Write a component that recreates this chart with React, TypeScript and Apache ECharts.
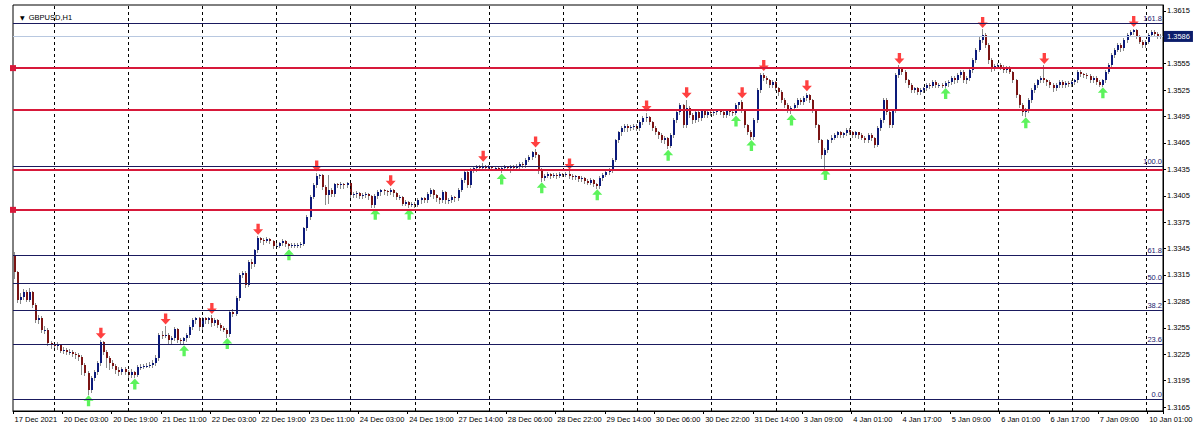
import React, { useEffect, useRef } from "react";
import * as echarts from "echarts";

const symbolName = "GBPUSD,H1";

// trading sessions: [day, first hour, last hour]
const sessions: [string, number, number][] = [
  ["17 Dec", 11, 23], ["20 Dec", 0, 23], ["21 Dec", 0, 23], ["22 Dec", 0, 23], ["23 Dec", 0, 23],
  ["24 Dec", 0, 20], ["27 Dec", 0, 23], ["28 Dec", 0, 23], ["29 Dec", 0, 23], ["30 Dec", 0, 23],
  ["31 Dec", 0, 20], ["3 Jan", 0, 23], ["4 Jan", 0, 23], ["5 Jan", 0, 23], ["6 Jan", 0, 23],
  ["7 Jan", 0, 23], ["10 Jan", 0, 5],
];
const firstLabel = "17 Dec 2021";

const opens = [
  1.3338,1.3318,1.3287,1.3290,1.3296,1.3287,1.3296,1.3281,1.3264,1.3266,
  1.3253,1.3253,1.3238,1.3235,1.3234,1.3235,1.3229,1.3230,1.3228,1.3228,
  1.3225,1.3224,1.3222,1.3213,1.3204,1.3184,1.3198,1.3205,1.3215,1.3239,
  1.3228,1.3221,1.3215,1.3212,1.3207,1.3205,1.3208,1.3205,1.3201,1.3205,
  1.3201,1.3211,1.3211,1.3212,1.3212,1.3213,1.3215,1.3221,1.3247,1.3246,
  1.3247,1.3241,1.3243,1.3254,1.3241,1.3240,1.3243,1.3247,1.3256,1.3264,
  1.3266,1.3256,1.3266,1.3264,1.3266,1.3260,1.3264,1.3258,1.3255,1.3253,
  1.3248,1.3273,1.3271,1.3289,1.3315,1.3317,1.3304,1.3330,1.3327,1.3343,
  1.3357,1.3355,1.3354,1.3356,1.3354,1.3348,1.3348,1.3351,1.3354,1.3350,
  1.3348,1.3349,1.3349,1.3349,1.3350,1.3368,1.3381,1.3404,1.3417,1.3428,
  1.3429,1.3415,1.3406,1.3412,1.3407,1.3418,1.3417,1.3418,1.3417,1.3419,
  1.3406,1.3407,1.3408,1.3405,1.3406,1.3407,1.3405,1.3394,1.3405,1.3409,
  1.3412,1.3410,1.3409,1.3412,1.3408,1.3404,1.3404,1.3396,1.3398,1.3395,
  1.3396,1.3394,1.3400,1.3402,1.3400,1.3407,1.3412,1.3406,1.3402,1.3400,
  1.3409,1.3400,1.3400,1.3404,1.3402,1.3412,1.3423,1.3432,1.3417,1.3434,
  1.3436,1.3438,1.3437,1.3439,1.3437,1.3438,1.3436,1.3437,1.3435,1.3436,
  1.3438,1.3436,1.3438,1.3436,1.3439,1.3441,1.3440,1.3446,1.3449,1.3455,
  1.3451,1.3434,1.3425,1.3428,1.3430,1.3428,1.3429,1.3428,1.3430,1.3429,
  1.3430,1.3428,1.3426,1.3427,1.3424,1.3425,1.3422,1.3420,1.3423,1.3418,
  1.3416,1.3425,1.3429,1.3432,1.3434,1.3446,1.3468,1.3477,1.3482,1.3484,
  1.3482,1.3483,1.3484,1.3482,1.3489,1.3493,1.3495,1.3489,1.3482,1.3477,
  1.3474,1.3468,1.3471,1.3461,1.3474,1.3491,1.3500,1.3508,1.3485,1.3505,
  1.3497,1.3491,1.3500,1.3493,1.3502,1.3497,1.3500,1.3499,1.3500,1.3502,
  1.3500,1.3497,1.3502,1.3500,1.3499,1.3508,1.3511,1.3502,1.3485,1.3478,
  1.3472,1.3491,1.3525,1.3542,1.3539,1.3536,1.3531,1.3534,1.3527,1.3523,
  1.3514,1.3508,1.3502,1.3505,1.3508,1.3514,1.3511,1.3516,1.3519,1.3514,
  1.3502,1.3485,1.3468,1.3451,1.3457,1.3468,1.3471,1.3474,1.3477,1.3474,
  1.3476,1.3480,1.3477,1.3474,1.3477,1.3474,1.3471,1.3468,1.3474,1.3471,
  1.3463,1.3482,1.3491,1.3514,1.3500,1.3485,1.3502,1.3542,1.3550,1.3546,
  1.3536,1.3531,1.3525,1.3527,1.3523,1.3525,1.3527,1.3531,1.3530,1.3534,
  1.3531,1.3531,1.3530,1.3533,1.3534,1.3539,1.3536,1.3542,1.3546,1.3536,
  1.3539,1.3548,1.3559,1.3571,1.3582,1.3588,1.3576,1.3559,1.3550,1.3552,
  1.3554,1.3551,1.3548,1.3550,1.3546,1.3536,1.3519,1.3508,1.3500,1.3502,
  1.3514,1.3525,1.3531,1.3536,1.3539,1.3536,1.3534,1.3531,1.3527,1.3531,
  1.3534,1.3531,1.3533,1.3532,1.3534,1.3536,1.3546,1.3543,1.3542,1.3541,
  1.3536,1.3539,1.3534,1.3531,1.3536,1.3546,1.3554,1.3565,1.3571,1.3576,
  1.3573,1.3582,1.3588,1.3591,1.3593,1.3586,1.3580,1.3576,1.3580,1.3588,
  1.3591,1.3589,1.3586,
];

const closes = [
  1.3318,1.3287,1.3290,1.3296,1.3287,1.3296,1.3281,1.3264,1.3266,1.3253,
  1.3253,1.3238,1.3235,1.3234,1.3235,1.3229,1.3230,1.3228,1.3228,1.3225,
  1.3224,1.3222,1.3213,1.3204,1.3184,1.3198,1.3205,1.3215,1.3239,1.3228,
  1.3221,1.3215,1.3212,1.3207,1.3205,1.3208,1.3205,1.3201,1.3205,1.3201,
  1.3211,1.3211,1.3212,1.3212,1.3213,1.3215,1.3221,1.3247,1.3246,1.3247,
  1.3241,1.3243,1.3254,1.3241,1.3240,1.3243,1.3247,1.3256,1.3264,1.3266,
  1.3256,1.3266,1.3264,1.3266,1.3260,1.3264,1.3258,1.3255,1.3253,1.3248,
  1.3273,1.3271,1.3289,1.3315,1.3317,1.3304,1.3330,1.3327,1.3343,1.3357,
  1.3355,1.3354,1.3356,1.3354,1.3348,1.3348,1.3351,1.3354,1.3350,1.3348,
  1.3349,1.3349,1.3349,1.3350,1.3368,1.3381,1.3404,1.3417,1.3428,1.3429,
  1.3415,1.3406,1.3412,1.3407,1.3418,1.3417,1.3418,1.3417,1.3419,1.3406,
  1.3407,1.3408,1.3405,1.3406,1.3407,1.3405,1.3394,1.3405,1.3409,1.3412,
  1.3410,1.3409,1.3412,1.3408,1.3404,1.3404,1.3396,1.3398,1.3395,1.3396,
  1.3394,1.3400,1.3402,1.3400,1.3407,1.3412,1.3406,1.3402,1.3400,1.3409,
  1.3400,1.3400,1.3404,1.3402,1.3412,1.3423,1.3432,1.3417,1.3434,1.3436,
  1.3438,1.3437,1.3439,1.3437,1.3438,1.3436,1.3437,1.3435,1.3436,1.3438,
  1.3436,1.3438,1.3436,1.3439,1.3441,1.3440,1.3446,1.3449,1.3455,1.3451,
  1.3434,1.3425,1.3428,1.3430,1.3428,1.3429,1.3428,1.3430,1.3429,1.3430,
  1.3428,1.3426,1.3427,1.3424,1.3425,1.3422,1.3420,1.3423,1.3418,1.3416,
  1.3425,1.3429,1.3432,1.3434,1.3446,1.3468,1.3477,1.3482,1.3484,1.3482,
  1.3483,1.3484,1.3482,1.3489,1.3493,1.3495,1.3489,1.3482,1.3477,1.3474,
  1.3468,1.3471,1.3461,1.3474,1.3491,1.3500,1.3508,1.3485,1.3505,1.3497,
  1.3491,1.3500,1.3493,1.3502,1.3497,1.3500,1.3499,1.3500,1.3502,1.3500,
  1.3497,1.3502,1.3500,1.3499,1.3508,1.3511,1.3502,1.3485,1.3478,1.3472,
  1.3491,1.3525,1.3542,1.3539,1.3536,1.3531,1.3534,1.3527,1.3523,1.3514,
  1.3508,1.3502,1.3505,1.3508,1.3514,1.3511,1.3516,1.3519,1.3514,1.3502,
  1.3485,1.3468,1.3451,1.3457,1.3468,1.3471,1.3474,1.3477,1.3474,1.3476,
  1.3480,1.3477,1.3474,1.3477,1.3474,1.3471,1.3468,1.3474,1.3471,1.3463,
  1.3482,1.3491,1.3514,1.3500,1.3485,1.3502,1.3542,1.3550,1.3546,1.3536,
  1.3531,1.3525,1.3527,1.3523,1.3525,1.3527,1.3531,1.3530,1.3534,1.3531,
  1.3531,1.3530,1.3533,1.3534,1.3539,1.3536,1.3542,1.3546,1.3536,1.3539,
  1.3548,1.3559,1.3571,1.3582,1.3588,1.3576,1.3559,1.3550,1.3552,1.3554,
  1.3551,1.3548,1.3550,1.3546,1.3536,1.3519,1.3508,1.3500,1.3502,1.3514,
  1.3525,1.3531,1.3536,1.3539,1.3536,1.3534,1.3531,1.3527,1.3531,1.3534,
  1.3531,1.3533,1.3532,1.3534,1.3536,1.3546,1.3543,1.3542,1.3541,1.3536,
  1.3539,1.3534,1.3531,1.3536,1.3546,1.3554,1.3565,1.3571,1.3576,1.3573,
  1.3582,1.3588,1.3591,1.3593,1.3586,1.3580,1.3576,1.3580,1.3588,1.3591,
  1.3589,1.3586,1.3586,
];

const highs = [
  1.3341,1.3320,1.3295,1.3299,1.3298,1.3300,1.3297,1.3283,1.3270,1.3268,
  1.3257,1.3255,1.3240,1.3238,1.3239,1.3237,1.3233,1.3232,1.3231,1.3230,
  1.3227,1.3226,1.3224,1.3215,1.3206,1.3200,1.3207,1.3217,1.3241,1.3240,
  1.3230,1.3223,1.3218,1.3214,1.3210,1.3211,1.3210,1.3207,1.3208,1.3206,
  1.3213,1.3214,1.3214,1.3215,1.3216,1.3218,1.3224,1.3249,1.3251,1.3257,
  1.3249,1.3246,1.3256,1.3255,1.3243,1.3245,1.3249,1.3258,1.3266,1.3267,
  1.3267,1.3267,1.3267,1.3267,1.3269,1.3266,1.3265,1.3260,1.3257,1.3255,
  1.3275,1.3276,1.3291,1.3317,1.3320,1.3319,1.3332,1.3333,1.3345,1.3359,
  1.3358,1.3357,1.3358,1.3357,1.3355,1.3351,1.3353,1.3356,1.3355,1.3351,
  1.3351,1.3351,1.3351,1.3352,1.3370,1.3383,1.3406,1.3419,1.3431,1.3430,
  1.3430,1.3417,1.3429,1.3414,1.3420,1.3420,1.3421,1.3420,1.3421,1.3420,
  1.3409,1.3410,1.3409,1.3408,1.3409,1.3408,1.3406,1.3407,1.3411,1.3413,
  1.3413,1.3412,1.3414,1.3413,1.3409,1.3406,1.3405,1.3400,1.3399,1.3398,
  1.3398,1.3402,1.3404,1.3404,1.3409,1.3414,1.3413,1.3407,1.3404,1.3411,
  1.3410,1.3403,1.3406,1.3405,1.3414,1.3425,1.3434,1.3433,1.3436,1.3439,
  1.3440,1.3440,1.3442,1.3440,1.3440,1.3439,1.3439,1.3438,1.3438,1.3440,
  1.3439,1.3440,1.3440,1.3441,1.3443,1.3443,1.3448,1.3451,1.3456,1.3458,
  1.3452,1.3436,1.3430,1.3432,1.3431,1.3431,1.3431,1.3432,1.3431,1.3432,
  1.3433,1.3430,1.3429,1.3428,1.3427,1.3426,1.3424,1.3425,1.3424,1.3420,
  1.3427,1.3431,1.3434,1.3436,1.3448,1.3470,1.3479,1.3484,1.3486,1.3486,
  1.3485,1.3486,1.3486,1.3491,1.3496,1.3499,1.3496,1.3490,1.3484,1.3479,
  1.3476,1.3473,1.3472,1.3476,1.3493,1.3502,1.3510,1.3509,1.3514,1.3507,
  1.3499,1.3502,1.3502,1.3504,1.3504,1.3502,1.3502,1.3502,1.3504,1.3503,
  1.3502,1.3504,1.3504,1.3501,1.3510,1.3512,1.3514,1.3503,1.3487,1.3480,
  1.3493,1.3527,1.3545,1.3545,1.3541,1.3538,1.3536,1.3535,1.3529,1.3525,
  1.3516,1.3510,1.3507,1.3510,1.3516,1.3516,1.3518,1.3522,1.3521,1.3515,
  1.3503,1.3487,1.3470,1.3459,1.3470,1.3474,1.3476,1.3479,1.3479,1.3478,
  1.3482,1.3482,1.3479,1.3479,1.3478,1.3476,1.3473,1.3476,1.3476,1.3472,
  1.3484,1.3493,1.3516,1.3516,1.3502,1.3504,1.3545,1.3553,1.3550,1.3548,
  1.3538,1.3533,1.3529,1.3529,1.3527,1.3529,1.3533,1.3533,1.3536,1.3536,
  1.3533,1.3533,1.3535,1.3536,1.3541,1.3541,1.3544,1.3548,1.3548,1.3541,
  1.3550,1.3561,1.3573,1.3585,1.3594,1.3590,1.3578,1.3561,1.3555,1.3556,
  1.3556,1.3553,1.3552,1.3552,1.3547,1.3538,1.3521,1.3510,1.3505,1.3516,
  1.3527,1.3533,1.3538,1.3541,1.3553,1.3538,1.3536,1.3533,1.3533,1.3536,
  1.3536,1.3535,1.3535,1.3536,1.3538,1.3548,1.3548,1.3545,1.3544,1.3543,
  1.3541,1.3541,1.3536,1.3538,1.3548,1.3556,1.3567,1.3573,1.3578,1.3578,
  1.3584,1.3590,1.3593,1.3595,1.3594,1.3588,1.3582,1.3582,1.3590,1.3593,
  1.3593,1.3591,1.3589,
];

const lows = [
  1.3312,1.3284,1.3283,1.3288,1.3285,1.3285,1.3279,1.3262,1.3261,1.3250,
  1.3249,1.3236,1.3232,1.3230,1.3231,1.3227,1.3226,1.3225,1.3225,1.3223,
  1.3221,1.3219,1.3203,1.3201,1.3180,1.3182,1.3196,1.3203,1.3213,1.3225,
  1.3210,1.3208,1.3209,1.3204,1.3201,1.3203,1.3202,1.3199,1.3199,1.3199,
  1.3200,1.3208,1.3209,1.3210,1.3210,1.3211,1.3213,1.3219,1.3243,1.3244,
  1.3238,1.3238,1.3241,1.3239,1.3238,1.3237,1.3240,1.3245,1.3254,1.3261,
  1.3253,1.3254,1.3260,1.3261,1.3257,1.3258,1.3256,1.3253,1.3251,1.3245,
  1.3246,1.3268,1.3269,1.3287,1.3313,1.3301,1.3302,1.3323,1.3325,1.3341,
  1.3352,1.3350,1.3352,1.3351,1.3346,1.3346,1.3347,1.3349,1.3348,1.3346,
  1.3347,1.3347,1.3347,1.3347,1.3349,1.3366,1.3379,1.3402,1.3415,1.3425,
  1.3413,1.3396,1.3397,1.3405,1.3405,1.3415,1.3414,1.3414,1.3415,1.3404,
  1.3404,1.3404,1.3403,1.3403,1.3404,1.3401,1.3392,1.3392,1.3402,1.3406,
  1.3407,1.3406,1.3407,1.3405,1.3401,1.3401,1.3394,1.3394,1.3392,1.3393,
  1.3392,1.3393,1.3397,1.3398,1.3398,1.3405,1.3403,1.3399,1.3397,1.3398,
  1.3397,1.3397,1.3398,1.3399,1.3400,1.3410,1.3421,1.3415,1.3415,1.3432,
  1.3433,1.3434,1.3435,1.3435,1.3435,1.3434,1.3434,1.3434,1.3432,1.3434,
  1.3434,1.3432,1.3434,1.3434,1.3437,1.3438,1.3438,1.3444,1.3447,1.3449,
  1.3431,1.3422,1.3423,1.3426,1.3425,1.3426,1.3425,1.3426,1.3427,1.3427,
  1.3425,1.3424,1.3424,1.3422,1.3422,1.3420,1.3418,1.3418,1.3416,1.3414,
  1.3414,1.3423,1.3427,1.3430,1.3432,1.3444,1.3466,1.3474,1.3479,1.3479,
  1.3480,1.3481,1.3480,1.3480,1.3487,1.3490,1.3487,1.3480,1.3475,1.3471,
  1.3466,1.3465,1.3459,1.3460,1.3472,1.3489,1.3498,1.3483,1.3483,1.3494,
  1.3488,1.3489,1.3490,1.3491,1.3495,1.3495,1.3497,1.3497,1.3498,1.3498,
  1.3495,1.3495,1.3497,1.3497,1.3498,1.3505,1.3500,1.3483,1.3475,1.3470,
  1.3470,1.3489,1.3523,1.3536,1.3533,1.3529,1.3528,1.3525,1.3520,1.3512,
  1.3506,1.3500,1.3499,1.3503,1.3506,1.3509,1.3509,1.3514,1.3511,1.3500,
  1.3483,1.3466,1.3448,1.3437,1.3455,1.3466,1.3469,1.3472,1.3472,1.3472,
  1.3474,1.3475,1.3472,1.3472,1.3471,1.3469,1.3466,1.3466,1.3468,1.3460,
  1.3461,1.3480,1.3489,1.3498,1.3483,1.3483,1.3500,1.3540,1.3543,1.3534,
  1.3529,1.3523,1.3523,1.3521,1.3521,1.3523,1.3525,1.3527,1.3528,1.3528,
  1.3528,1.3529,1.3529,1.3530,1.3532,1.3533,1.3534,1.3540,1.3534,1.3533,
  1.3537,1.3546,1.3557,1.3569,1.3580,1.3574,1.3556,1.3547,1.3548,1.3550,
  1.3549,1.3546,1.3546,1.3544,1.3534,1.3517,1.3506,1.3497,1.3496,1.3500,
  1.3512,1.3523,1.3529,1.3534,1.3534,1.3531,1.3528,1.3524,1.3525,1.3529,
  1.3528,1.3529,1.3530,1.3530,1.3532,1.3534,1.3541,1.3540,1.3539,1.3534,
  1.3534,1.3532,1.3530,1.3530,1.3534,1.3544,1.3552,1.3563,1.3569,1.3570,
  1.3571,1.3580,1.3586,1.3589,1.3584,1.3578,1.3574,1.3574,1.3578,1.3586,
  1.3587,1.3584,1.3584,
];

// bars marked by arrows
const downArrowBars = [28, 49, 64, 79, 98, 122, 152, 169, 180, 205, 218, 236, 243, 257, 287, 314, 334, 363];
const upArrowBars = [24, 39, 55, 69, 89, 117, 128, 158, 171, 189, 212, 234, 239, 252, 263, 302, 328, 353];

// horizontal support/resistance lines
const redLevels = [1.3550, 1.3503, 1.3435, 1.3389];
const redLevelsWithHandles = [1.3550, 1.3389];

// Fibonacci retracement
const fibLow = 1.3174;
const fibHigh = 1.3438;
const fibLevels = [0, 23.6, 38.2, 50.0, 61.8, 100.0, 161.8];

const priceTicks = [1.3165, 1.3195, 1.3225, 1.3255, 1.3285, 1.3315, 1.3345, 1.3375, 1.3405, 1.3435, 1.3465, 1.3495, 1.3525, 1.3555, 1.3615];
const yMin = 1.31605;
const yMax = 1.36217;

const FONT = "Liberation Sans, Arial, sans-serif";
const BULL = "#0c1a7a";
const BEAR = "#7a1414";
const WICK = "#8a8a8a";

function pad2(n: number) { return n < 10 ? "0" + n : "" + n; }

const categories: string[] = [];
const dayStarts: string[] = [];
sessions.forEach(([day, h0, h1], si) => {
  for (let h = h0; h <= h1; h++) {
    const name = `${day} ${pad2(h)}:00`;
    if (h === h0 && si > 0) dayStarts.push(name);
    categories.push(name);
  }
});

export default function App() {
  const ref = useRef<HTMLDivElement>(null);
  useEffect(() => {
    if (!ref.current) return;
    const chart = echarts.init(ref.current, undefined, { renderer: "svg" });
    const candleData = opens.map((o, i) => [i, o, closes[i], lows[i], highs[i]]);
    const downPath = "path://M3,0 L6,0 L6,5 L9,5 L4.5,10 L0,5 L3,5 Z";
    const upPath = "path://M4.5,0 L9,5 L6,5 L6,10 L3,10 L3,5 L0,5 Z";
    const handlePath = "path://M0,0 L10,0 L10,10 L0,10 Z M2,2 L2,8 L8,8 L8,2 Z";
    const lastClose = closes[closes.length - 1];
    const labelEvery = (i: number) => i % 16 === 0;

    const markData: any[] = [];
    dayStarts.forEach((d) => markData.push({
      xAxis: d, symbol: "none", label: { show: false },
      lineStyle: { color: "#000000", width: 1, type: [3, 3] },
    }));
    fibLevels.forEach((lv) => markData.push({
      yAxis: fibLow + (lv / 100) * (fibHigh - fibLow), symbol: "none",
      lineStyle: { color: "#1a1a5e", width: 1, type: "solid" },
      label: { show: true, position: "insideEndTop", formatter: lv.toFixed(1), color: "#1a1a6e", fontSize: 7.5, fontFamily: FONT, distance: 1 },
    }));
    redLevels.forEach((lv) => markData.push({
      yAxis: lv,
      symbol: redLevelsWithHandles.includes(lv) ? [handlePath, handlePath] : "none",
      symbolSize: 6,
      lineStyle: { color: "#d7193a", width: 2, type: "solid" },
      label: { show: false },
    }));
    markData.push({
      yAxis: lastClose, symbol: "none",
      lineStyle: { color: "#b8c8e0", width: 1, type: "solid" },
      label: {
        show: true, position: "end", formatter: lastClose.toFixed(4), color: "#ffffff",
        backgroundColor: "#0b1d6b", padding: [2, 3, 1, 3], fontSize: 7.5, fontFamily: FONT, distance: 1,
      },
    });

    chart.setOption({
      animation: false,
      backgroundColor: "#ffffff",
      title: {
        text: `{a|▼}  ${symbolName}`,
        left: 15, top: 8,
        textStyle: {
          fontSize: 7.5, fontWeight: "normal", color: "#000", fontFamily: FONT,
          rich: { a: { fontSize: 6, color: "#000", fontFamily: "DejaVu Sans" } },
        },
      },
      grid: { left: 13, right: 37, top: 5, bottom: 20, show: true, borderColor: "#000", borderWidth: 1, backgroundColor: "transparent" },
      xAxis: {
        type: "category", data: categories, boundaryGap: true,
        axisLine: { show: true, lineStyle: { color: "#000" } },
        axisTick: { show: true, interval: (i: number) => labelEvery(i), length: 3, lineStyle: { color: "#000" } },
        axisLabel: {
          show: true, interval: (i: number) => labelEvery(i), align: "left", margin: 4,
          fontSize: 7.5, color: "#000", fontFamily: FONT,
          formatter: (v: string, i: number) => (i === 0 ? firstLabel : v),
        },
        splitLine: { show: false },
      },
      yAxis: {
        type: "value", position: "right", min: yMin, max: yMax, scale: true,
        axisLine: { show: true, lineStyle: { color: "#000" } },
        axisTick: { show: true, customValues: priceTicks, length: 3, lineStyle: { color: "#000" } },
        axisLabel: { show: true, customValues: priceTicks, formatter: (v: number) => v.toFixed(4), fontSize: 7.5, color: "#000", fontFamily: FONT, margin: 4 },
        splitLine: { show: false },
      },
      series: [
        {
          type: "line", data: closes.map((c, i) => [i, c]), symbol: "none", silent: true, z: 1,
          lineStyle: { opacity: 0 },
          markLine: { silent: true, symbol: "none", precision: 6, animation: false, data: markData },
        },
        {
          type: "custom", z: 3, silent: true,
          data: candleData,
          encode: { x: 0, y: [1, 2, 3, 4] },
          renderItem: (_p: any, api: any) => {
            const i = api.value(0);
            const o = api.value(1), c = api.value(2), l = api.value(3), h = api.value(4);
            const po = api.coord([i, o]);
            const pc = api.coord([i, c]);
            const pl = api.coord([i, l]);
            const ph = api.coord([i, h]);
            const x = Math.round(po[0]);
            const top = Math.round(Math.min(po[1], pc[1]));
            const bot = Math.round(Math.max(po[1], pc[1]));
            return {
              type: "group",
              children: [
                { type: "line", shape: { x1: x - 0.5, y1: Math.round(ph[1]), x2: x - 0.5, y2: Math.round(pl[1]) + 1 }, style: { stroke: WICK, lineWidth: 1 } },
                { type: "rect", shape: { x: x - 1, y: top, width: 2, height: Math.max(1, bot - top) }, style: { fill: c >= o ? BULL : BEAR } },
              ],
            };
          },
        },
        {
          type: "scatter", z: 4, silent: true,
          data: downArrowBars.map((i) => [i, highs[i]]),
          symbol: downPath, symbolSize: [10, 11], symbolOffset: [0, -7],
          itemStyle: { color: "#ff1010" },
        },
        {
          type: "scatter", z: 4, silent: true,
          data: upArrowBars.map((i) => [i, lows[i]]),
          symbol: upPath, symbolSize: [10, 11], symbolOffset: [0, 7],
          itemStyle: { color: "#33f033" },
        },
      ],
    });
    return () => chart.dispose();
  }, []);
  return <div ref={ref} style={{ position: "absolute", left: 0, top: 0, width: 1200, height: 431, background: "#fff" }} />;
}
